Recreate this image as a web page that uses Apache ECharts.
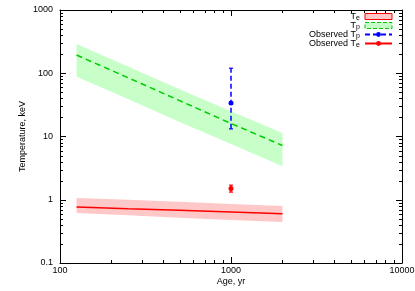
<!DOCTYPE html>
<html><head><meta charset="utf-8">
<script src="https://cdn.jsdelivr.net/npm/echarts@6/dist/echarts.min.js"></script>
<style>html,body{margin:0;padding:0;background:#fff}#c{width:415px;height:291px}</style>
</head><body><div id="c"></div>
<script>
// ---- data ----
const ages = [125, 250, 500, 1000, 2000];
const tpModel = [194, 85, 37, 16.1, 7.2];
const tpUpper = [290, 128, 56, 25, 11.4];
const tpLower = [88, 39, 17, 7.6, 3.4];
const teModel = [0.77, 0.72, 0.68, 0.64, 0.6];
const teUpper = [1.07, 1.0, 0.93, 0.86, 0.8];
const teLower = [0.62, 0.57, 0.52, 0.48, 0.445];
const obsAge = [1000];
const obsTp = [34];
const obsTpLow = [13.2];
const obsTpHigh = [120];
const obsTe = [1.5];
const obsTeLow = [1.32];
const obsTeHigh = [1.7];
const xMinor = [200,300,400,500,600,700,800,900,2000,3000,4000,5000,6000,7000,8000,9000];
const yMinor = [0.2,0.3,0.4,0.5,0.6,0.7,0.8,0.9,2,3,4,5,6,7,8,9,20,30,40,50,60,70,80,90,200,300,400,500,600,700,800,900];
const legendNames = ['Te', 'Tp', 'Observed Tp', 'Observed Te'];

const FONT = "'Liberation Sans', Arial, sans-serif";
const chart = echarts.init(document.getElementById('c'), null, {renderer: 'canvas'});

function band(name, up, lo, fill, border) {
  return {
    type: 'custom', name: name, z: 1, silent: true,
    data: ages.map((a, i) => [a, up[i], lo[i]]),
    itemStyle: {color: fill, borderColor: border},
    renderItem: function (params, api) {
      if (params.dataIndex !== 0) return null;
      const top = ages.map((a, i) => api.coord([a, up[i]]));
      const bot = ages.map((a, i) => api.coord([a, lo[i]])).reverse();
      return {type: 'polygon', shape: {points: top.concat(bot)}, style: {fill: fill}};
    }
  };
}

function errBar(name, lows, highs, color, dashed) {
  return {
    type: 'custom', name: name, z: 4, silent: true,
    data: obsAge.map((a, i) => [a, lows[i], highs[i]]),
    renderItem: function (params, api) {
      const a = api.value(0);
      const p1 = api.coord([a, api.value(1)]);
      const p2 = api.coord([a, api.value(2)]);
      const st = {stroke: color, lineWidth: 1.5, lineDash: dashed ? [5, 3] : null};
      const cst = {stroke: color, lineWidth: 1.2};
      return {type: 'group', children: [
        {type: 'line', shape: {x1: p1[0], y1: p1[1], x2: p2[0], y2: p2[1]}, style: st},
        {type: 'line', shape: {x1: p1[0] - 2, y1: p1[1], x2: p1[0] + 2, y2: p1[1]}, style: cst},
        {type: 'line', shape: {x1: p2[0] - 2, y1: p2[1], x2: p2[0] + 2, y2: p2[1]}, style: cst}
      ]};
    }
  };
}

function minorTicks(vals, isX) {
  return {
    type: 'custom', silent: true, z: 5, clip: false,
    data: vals.map(v => isX ? [v, 1] : [1000, v]),
    renderItem: function (params, api) {
      const cs = params.coordSys;
      const p = api.coord([api.value(0), api.value(1)]);
      const st = {stroke: '#000', lineWidth: 1};
      const L = 3;
      if (isX) {
        const x = Math.round(p[0]) + 0.5;
        return {type: 'group', children: [
          {type: 'line', shape: {x1: x, y1: cs.y + cs.height, x2: x, y2: cs.y + cs.height - L}, style: st},
          {type: 'line', shape: {x1: x, y1: cs.y, x2: x, y2: cs.y + L}, style: st}
        ]};
      } else {
        const y = Math.round(p[1]) + 0.5;
        return {type: 'group', children: [
          {type: 'line', shape: {x1: cs.x, y1: y, x2: cs.x + L, y2: y}, style: st},
          {type: 'line', shape: {x1: cs.x + cs.width, y1: y, x2: cs.x + cs.width - L, y2: y}, style: st}
        ]};
      }
    }
  };
}

const fmt = v => String(+v.toPrecision(6));
const axisCommon = {
  type: 'log', logBase: 10,
  axisLine: {show: true, onZero: false, lineStyle: {color: '#000', width: 1}},
  axisTick: {show: true, inside: true, length: 6, lineStyle: {color: '#000', width: 1}},
  splitLine: {show: false},
  minorTick: {show: false}
};

const option = {
  animation: false,
  backgroundColor: '#fff',
  textStyle: {fontFamily: FONT},
  grid: {left: 60, right: 13, top: 10, bottom: 28, containLabel: false, outerBoundsMode: 'none'},
  xAxis: [
    Object.assign({}, axisCommon, {
      position: 'bottom', min: 100, max: 10000,
      axisLabel: {fontSize: 9, color: '#000', margin: 3, fontFamily: FONT, formatter: fmt},
      name: 'Age, yr', nameLocation: 'middle', nameGap: 14, nameMoveOverlap: false,
      nameTextStyle: {fontSize: 9, color: '#000', fontFamily: FONT}
    }),
    Object.assign({}, axisCommon, {position: 'top', min: 100, max: 10000, axisLabel: {show: false}})
  ],
  yAxis: [
    Object.assign({}, axisCommon, {
      position: 'left', min: 0.1, max: 1000,
      axisLabel: {fontSize: 9, color: '#000', margin: 7, fontFamily: FONT, formatter: fmt},
      name: 'Temperature, keV', nameLocation: 'middle', nameGap: 33, nameMoveOverlap: false,
      nameTextStyle: {fontSize: 9, color: '#000', fontFamily: FONT}
    }),
    Object.assign({}, axisCommon, {position: 'right', min: 0.1, max: 1000, axisLabel: {show: false}})
  ],
  legend: {
    data: [
      {name: 'Te', icon: 'rect', itemStyle: {color: '#ffc8c8', borderColor: '#ff0000', borderWidth: 1}},
      {name: 'Tp', icon: 'rect', itemStyle: {color: '#c8ffc8', borderColor: '#00cc00', borderWidth: 1, borderType: 'dashed'}},
      {name: 'Observed Tp'},
      {name: 'Observed Te'}
    ],
    orient: 'vertical', right: 22, top: 11, align: 'right',
    itemWidth: 27, itemHeight: 6, itemGap: -2, padding: 0,
    selectedMode: false,
    textStyle: {fontSize: 9, color: '#000', fontFamily: FONT, lineHeight: 9,
      rich: {s: {fontSize: 7, lineHeight: 9, padding: [4, 0, 0, 0], fontFamily: FONT, color: '#000'}}},
    formatter: function (n) {
      const m = {'Te': 'T{s|e}', 'Tp': 'T{s|p}', 'Observed Tp': 'Observed T{s|p}', 'Observed Te': 'Observed T{s|e}'};
      return m[n];
    }
  },
  series: [
    band('Tp', tpUpper, tpLower, '#c8ffc8', '#00cc00'),
    band('Te', teUpper, teLower, '#ffc8c8', '#ff0000'),
    {type: 'line', name: 'Tp model', z: 3, showSymbol: false, silent: true,
      data: ages.map((a, i) => [a, tpModel[i]]),
      lineStyle: {color: '#00cc00', width: 1.5, type: [6, 4]}, itemStyle: {color: '#00cc00'}},
    {type: 'line', name: 'Te model', z: 3, showSymbol: false, silent: true,
      data: ages.map((a, i) => [a, teModel[i]]),
      lineStyle: {color: '#ff0000', width: 1.5}, itemStyle: {color: '#ff0000'}},
    {type: 'line', name: 'Observed Tp', z: 6, symbol: 'circle', symbolSize: 5, silent: true,
      data: obsAge.map((a, i) => [a, obsTp[i]]),
      lineStyle: {color: '#0000ff', width: 1.5, type: [5, 3]}, itemStyle: {color: '#0000ff'}},
    {type: 'line', name: 'Observed Te', z: 6, symbol: 'circle', symbolSize: 5, silent: true,
      data: obsAge.map((a, i) => [a, obsTe[i]]),
      lineStyle: {color: '#ff0000', width: 1.5}, itemStyle: {color: '#ff0000'}},
    errBar('Observed Tp', obsTpLow, obsTpHigh, '#0000ff', true),
    errBar('Observed Te', obsTeLow, obsTeHigh, '#ff0000', false),
    minorTicks(xMinor, true),
    minorTicks(yMinor, false)
  ]
};
chart.setOption(option);
</script>
</body></html>
